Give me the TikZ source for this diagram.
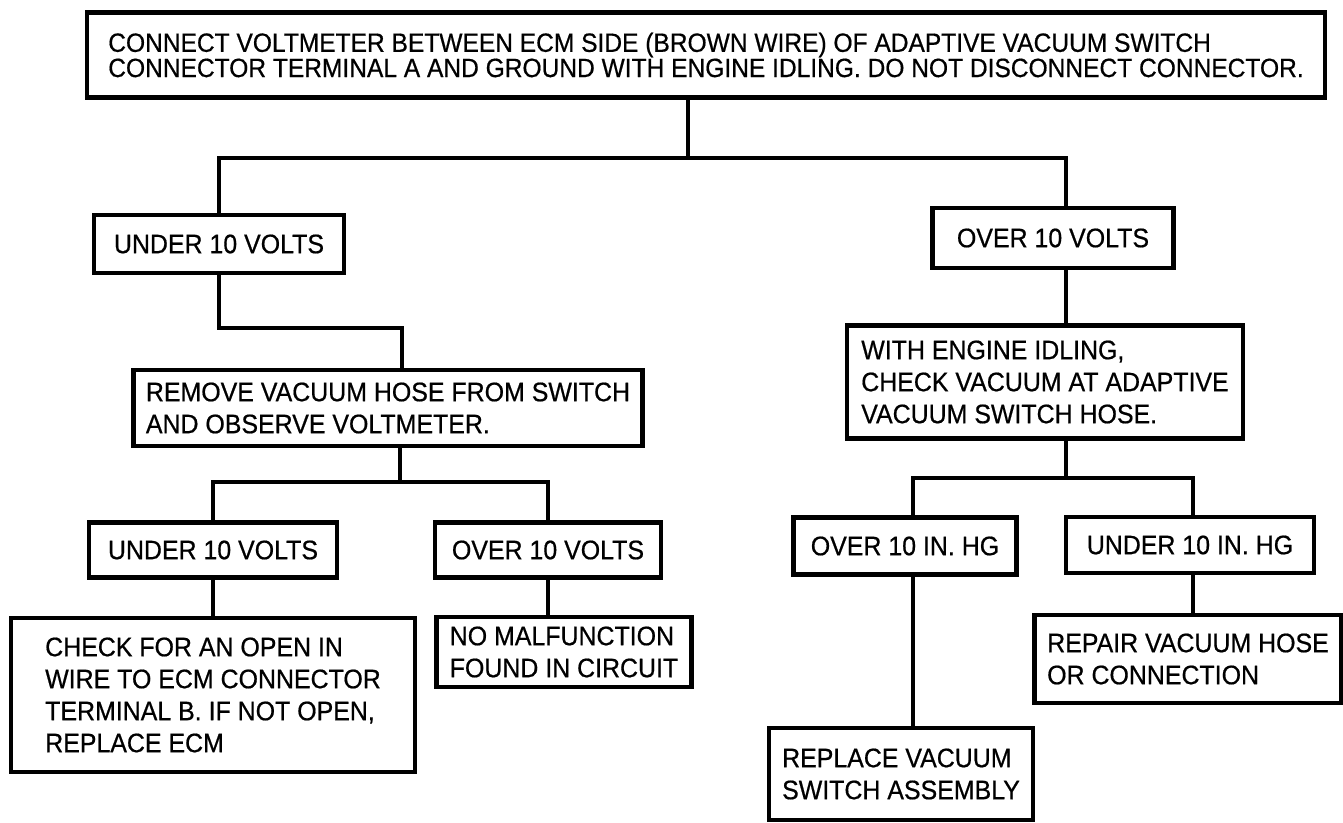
\documentclass[tikz,border=0pt]{standalone}
\usepackage{fontspec}
\setmainfont{Liberation Sans}[FakeStretch=0.93,FakeBold=0.6]
\usetikzlibrary{positioning}
\begin{document}
\begin{tikzpicture}[x=0.5pt,y=-0.5pt,
every node/.style={draw,line width=2.2pt,align=left,inner sep=2pt,
font=\fontsize{13.4}{16}\selectfont},
wire/.style={line width=1.8pt}]
\useasboundingbox (0,0) rectangle (1343,823);
\node[minimum width=619pt,minimum height=42.5pt,font=\fontsize{13.2}{12.6}\selectfont] (top) at (706,55)
{CONNECT VOLTMETER BETWEEN ECM SIDE (BROWN WIRE) OF ADAPTIVE VACUUM SWITCH\\
CONNECTOR TERMINAL A AND GROUND WITH ENGINE IDLING. DO NOT DISCONNECT CONNECTOR.};
\node[minimum width=125pt,minimum height=29pt] (u1) at (219,244) {UNDER 10 VOLTS};
\node[minimum width=120.5pt,minimum height=30pt] (o1) at (1053,238) {OVER 10 VOLTS};
\node[minimum width=254.5pt,minimum height=38pt] (rm) at (388,408)
{REMOVE VACUUM HOSE FROM SWITCH\\AND OBSERVE VOLTMETER.};
\node[minimum width=198pt,minimum height=56.5pt] (wi) at (1045,382)
{WITH ENGINE IDLING,\\CHECK VACUUM AT ADAPTIVE\\VACUUM SWITCH HOSE.};
\node[minimum width=124pt,minimum height=27.5pt] (u2) at (213,550) {UNDER 10 VOLTS};
\node[minimum width=113pt,minimum height=27.5pt] (o2) at (548,550) {OVER 10 VOLTS};
\node[minimum width=202pt,minimum height=77pt] (ck) at (213,695)
{CHECK FOR AN OPEN IN\\WIRE TO ECM CONNECTOR\\TERMINAL B. IF NOT OPEN,\\REPLACE ECM};
\node[minimum width=127.5pt,minimum height=35pt] (nm) at (564,652)
{NO MALFUNCTION\\FOUND IN CIRCUIT};
\node[minimum width=111.5pt,minimum height=28.5pt] (oh) at (905,546) {OVER 10 IN. HG};
\node[minimum width=124pt,minimum height=28pt] (uh) at (1190,545) {UNDER 10 IN. HG};
\node[minimum width=132pt,minimum height=46pt] (rp) at (901,774)
{REPLACE VACUUM\\SWITCH ASSEMBLY};
\node[minimum width=153.5pt,minimum height=44pt] (rh) at (1188,659)
{REPAIR VACUUM HOSE\\OR CONNECTION};
\coordinate (j1) at (688,158);
\coordinate (jr) at (1066,158);
\coordinate (jl) at (402,328);
\coordinate (j2) at (400,482);
\coordinate (j3) at (1066,478);
\coordinate (jh) at (913,478);
\coordinate (ju) at (1193,478);
\draw[wire] (top.south -| j1)--(j1);
\draw[wire] (u1.north) |- (jr)--(jr |- o1.north);
\draw[wire] (u1.south) |- (jl)--(jl |- rm.north);
\draw[wire] (j2 |- rm.south)--(j2);
\draw[wire] (u2.north) |- (j2) -| (o2.north);
\draw[wire] (u2.south)--(u2.south |- ck.north);
\draw[wire] (o2.south)--(o2.south |- nm.north);
\draw[wire] (jr |- o1.south)--(jr |- wi.north);
\draw[wire] (jr |- wi.south)--(j3);
\draw[wire] (jh |- oh.north)--(jh)--(ju)--(ju |- uh.north);
\draw[wire] (jh |- oh.south)--(jh |- rp.north);
\draw[wire] (ju |- uh.south)--(ju |- rh.north);
\end{tikzpicture}
\end{document}
